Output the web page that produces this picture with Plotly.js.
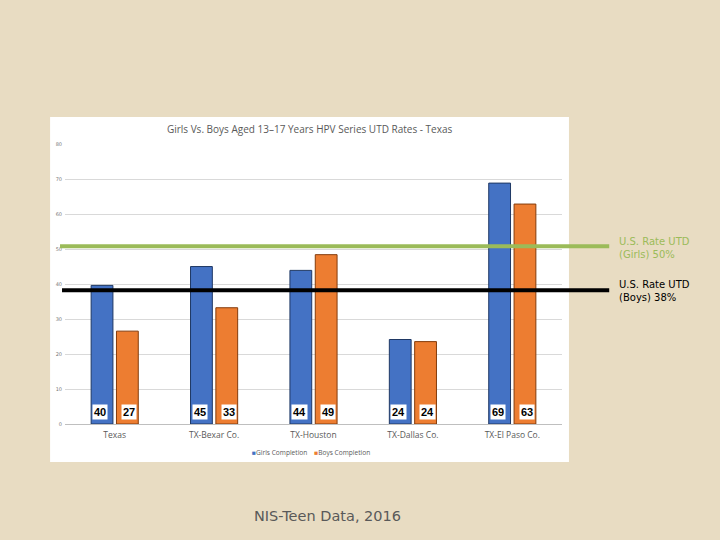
<!DOCTYPE html>
<html><head><meta charset="utf-8">
<script src="https://cdn.plot.ly/plotly-3.0.1.min.js"></script>
<style>html,body{margin:0;padding:0;background:#E8DCC2;}</style>
</head><body>
<div id="chart" style="width:720px;height:540px;"></div>
<script>
const categories = ["Texas", "TX-Bexar Co.", "TX-Houston", "TX-Dallas Co.", "TX-El Paso Co."];
const girls = [39.7, 45.1, 44.0, 24.2, 69.0];
const boys = [26.6, 33.3, 48.5, 23.6, 63.0];
const girlsLabels = ["40", "45", "44", "24", "69"];
const boysLabels = ["27", "33", "49", "24", "63"];
const seriesNames = ["Girls Completion", "Boys Completion"];
const seriesColors = ["#4472C4", "#ED7D31"];
const usGirlsRate = 50.9;
const usBoysRate = 38.3;
const usGirlsText = "U.S. Rate UTD<br>(Girls) 50%";
const usBoysText = "U.S. Rate UTD<br>(Boys) 38%";

const traces = [
  {type:'bar', name:seriesNames[0], x:categories, y:girls,
   marker:{color:seriesColors[0], line:{color:'#1F3864', width:1}}, hoverinfo:'none'},
  {type:'bar', name:seriesNames[1], x:categories, y:boys,
   marker:{color:seriesColors[1], line:{color:'#843C0C', width:1}}, hoverinfo:'none'}
];

const annotations = [];
categories.forEach((c,i)=>{
  annotations.push({x:c, y:3.4, xref:'x', yref:'y', text:'<b>'+girlsLabels[i]+'</b>', showarrow:false,
    xshift:-14.5, bgcolor:'#ffffff', borderpad:1, font:{family:'Liberation Sans, Arial', size:11, color:'#000'}});
  annotations.push({x:c, y:3.4, xref:'x', yref:'y', text:'<b>'+boysLabels[i]+'</b>', showarrow:false,
    xshift:14.5, bgcolor:'#ffffff', borderpad:1, font:{family:'Liberation Sans, Arial', size:11, color:'#000'}});
});
annotations.push({xref:'paper', yref:'y', x:1.111, y:usGirlsRate, yshift:-2, xanchor:'left', yanchor:'middle', align:'left',
  text:usGirlsText, showarrow:false, font:{family:'DejaVu Sans, Verdana', size:10, color:'#9BBB59'}});
annotations.push({xref:'paper', yref:'y', x:1.111, y:usBoysRate, yshift:-1, xanchor:'left', yanchor:'middle', align:'left',
  text:usBoysText, showarrow:false, font:{family:'DejaVu Sans, Verdana', size:10, color:'#000'}});
annotations.push({xref:'paper', yref:'paper', x:0.529, y:-0.329, xanchor:'center', yanchor:'middle',
  text:'NIS-Teen Data, 2016', showarrow:false, font:{family:'DejaVu Sans, Verdana', size:14.5, color:'#595959'}});
// legend drawn as text
annotations.push({xref:'paper', yref:'paper', x:0.494, y:-0.1, xanchor:'center', yanchor:'middle', showarrow:false,
  text:'<span style="color:'+seriesColors[0]+'">■</span>'+seriesNames[0]+'    <span style="color:'+seriesColors[1]+'">■</span>'+seriesNames[1],
  font:{family:'Open Sans', size:6.6, color:'#595959'}});

const layout = {
  width:720, height:540,
  paper_bgcolor:'#E8DCC2', plot_bgcolor:'rgba(0,0,0,0)',
  margin:{l:65, r:158, t:144, b:116},
  barmode:'group', bargap:0.49, bargroupgap:0.14,
  title:{text:'Girls Vs. Boys Aged 13–17 Years HPV Series UTD Rates - Texas', x:0.43, xanchor:'center', y:0.761, yanchor:'middle',
    font:{family:'Open Sans, Calibri', size:10, color:'#595959'}},
  xaxis:{tickfont:{family:'Open Sans', size:8.5, color:'#595959'}, showline:false, ticks:'', fixedrange:true, ticklabelstandoff:4},
  yaxis:{range:[0,80.2], tickvals:[0,10,20,30,40,50,60,70,80], tickfont:{family:'DejaVu Sans', size:5, color:'#777'}, gridcolor:'#D9D9D9', gridwidth:1,
    zeroline:true, zerolinecolor:'#BFBFBF', zerolinewidth:1, ticks:'', ticklabelstandoff:2},
  showlegend:false,
  shapes:[
    {type:'rect', xref:'paper', yref:'paper', x0:-0.030, x1:1.014, y0:-0.136, y1:1.096, fillcolor:'#ffffff', line:{width:0}, layer:'below'},
    {type:'line', xref:'paper', yref:'y', x0:-0.01, x1:1.095, y0:usGirlsRate, y1:usGirlsRate, line:{color:'#9BBB59', width:4}},
    {type:'line', xref:'paper', yref:'y', x0:-0.006, x1:1.095, y0:usBoysRate, y1:usBoysRate, line:{color:'#000000', width:4}}
  ],
  annotations:annotations
};
Plotly.newPlot('chart', traces, layout, {displayModeBar:false, staticPlot:true});
</script>
</body></html>
